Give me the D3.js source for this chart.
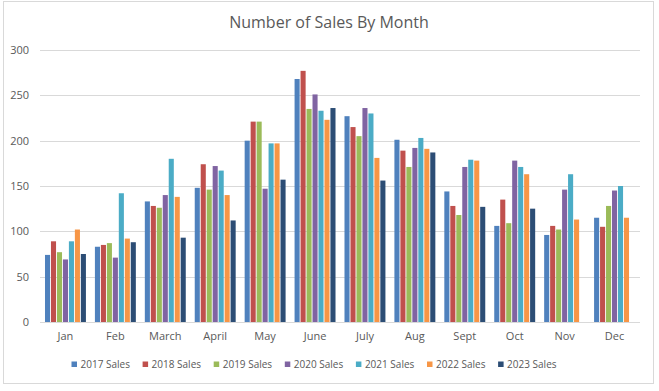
<!DOCTYPE html>
<html>
<head>
<meta charset="utf-8">
<script src="https://cdn.jsdelivr.net/npm/d3@7"></script>
<style>
  html, body { margin: 0; padding: 0; background: #fff; }
  svg { display: block; font-family: "Open Sans", "Liberation Sans", sans-serif; }
</style>
</head>
<body>
<div id="chart"></div>
<script>
const months = ["Jan","Feb","March","April","May","June","July","Aug","Sept","Oct","Nov","Dec"];
const seriesNames = ["2017 Sales","2018 Sales","2019 Sales","2020 Sales","2021 Sales","2022 Sales","2023 Sales"];
const colors = ["#4F81BD","#C0504D","#9BBB59","#8064A2","#4BACC6","#F79646","#2C4D75"];
const sales2017 = [74, 83, 133, 148, 200, 268, 227, 201, 144, 106, 96, 115];
const sales2018 = [89, 85, 128, 174, 221, 277, 215, 189, 128, 135, 106, 105];
const sales2019 = [77, 87, 126, 146, 221, 235, 205, 171, 118, 109, 102, 128];
const sales2020 = [69, 71, 140, 172, 147, 251, 236, 192, 171, 178, 146, 145];
const sales2021 = [89, 142, 180, 167, 197, 233, 230, 203, 179, 171, 163, 150];
const sales2022 = [102, 92, 138, 140, 197, 223, 181, 191, 178, 163, 113, 115];
const sales2023 = [75, 88, 93, 112, 157, 236, 156, 187, 127, 125, null, null];
const yTicks = [0, 50, 100, 150, 200, 250, 300];
const allSeries = [sales2017, sales2018, sales2019, sales2020, sales2021, sales2022, sales2023];

const W = 659, H = 391;
const svg = d3.select("#chart").append("svg").attr("width", W).attr("height", H);

// chart border
svg.append("rect").attr("x", 3.5).attr("y", 1.5).attr("width", 650).attr("height", 382)
  .attr("fill", "#fff").attr("stroke", "#d9d9d9").attr("stroke-width", 1);

const plot = { left: 40, right: 640, top: 50, bottom: 322 };

const x0 = d3.scaleBand().domain(months).range([plot.left, plot.right]).paddingInner(0.18).paddingOuter(0.1);
const x1 = d3.scaleBand().domain(d3.range(seriesNames.length)).range([0, x0.bandwidth()]).paddingInner(0.15);
const y = d3.scaleLinear().domain([0, 300]).range([plot.bottom, plot.top]);

// gridlines
const yAxis = d3.axisLeft(y).tickValues(yTicks).tickSize(-(plot.right - plot.left)).tickPadding(11);
const gy = svg.append("g").attr("transform", `translate(${plot.left},0)`).call(yAxis);
gy.select(".domain").remove();
gy.selectAll(".tick line").attr("stroke", "#d9d9d9").attr("shape-rendering", "crispEdges");
gy.selectAll(".tick text").attr("fill", "#595959").style("font-size", "11px").style("font-family", "\"Open Sans\", sans-serif");

// bars
const groups = svg.append("g").selectAll("g").data(months).join("g")
  .attr("transform", d => `translate(${x0(d)},0)`);
groups.selectAll("rect")
  .data((m, i) => allSeries.map((s, k) => ({ k, v: s[i] })).filter(d => d.v != null))
  .join("rect")
  .attr("x", d => x1(d.k))
  .attr("width", x1.bandwidth())
  .attr("y", d => y(d.v))
  .attr("height", d => y(0) - y(d.v))
  .attr("fill", d => colors[d.k]);

// x axis
const xAxis = d3.axisBottom(x0).tickSize(0).tickPadding(10);
const gx = svg.append("g").attr("transform", `translate(0,${plot.bottom})`).call(xAxis);
gx.select(".domain").attr("stroke", "#d9d9d9").attr("d", `M${plot.left},0.5H${plot.right}`);
gx.selectAll(".tick text").attr("fill", "#595959").style("font-size", "11px").style("font-family", "\"Open Sans\", sans-serif");

// title
svg.append("text").attr("x", 329).attr("y", 28).attr("text-anchor", "middle")
  .attr("fill", "#595959").style("font-size", "16px").text("Number of Sales By Month");

// legend
const leg = svg.append("g");
const legItems = leg.selectAll("g").data(seriesNames).join("g")
  .attr("transform", (d, i) => `translate(${71.5 + i * 71.1},0)`);
legItems.append("rect").attr("x", 0).attr("y", 361.5).attr("width", 5.5).attr("height", 5.5)
  .attr("fill", (d, i) => colors[i]);
legItems.append("text").attr("x", 9).attr("y", 367.5).attr("fill", "#595959")
  .style("font-size", "10px").text(d => d);
</script>
</body>
</html>
